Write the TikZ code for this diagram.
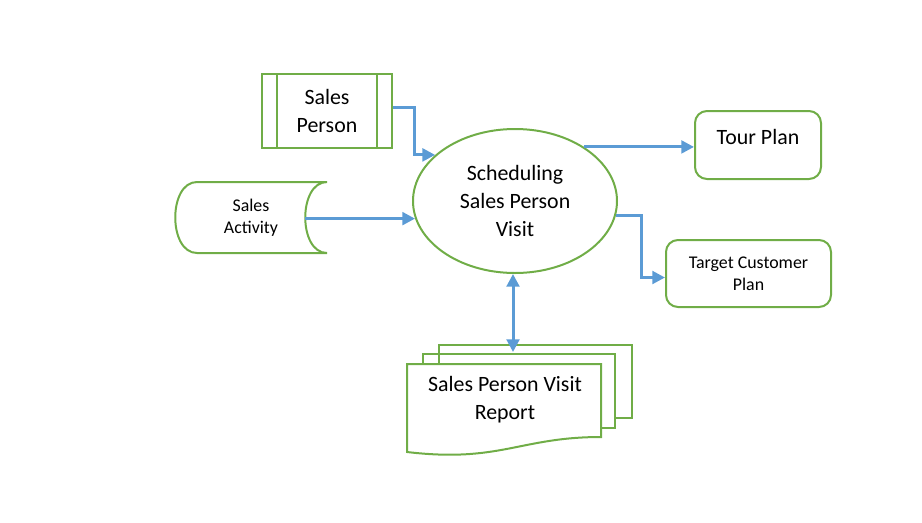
\documentclass[tikz,border=0pt]{standalone}
\usepackage{fontspec}
\setmainfont{Carlito}
\usepackage{xcolor}
\usetikzlibrary{arrows.meta,positioning,shapes.geometric,calc}
\definecolor{shapegreen}{RGB}{112,173,71}
\definecolor{flowblue}{RGB}{91,155,213}

\begin{document}
\begin{tikzpicture}[x=0.75pt,y=-0.75pt,
   big/.style={font=\fontsize{16.4}{21}\selectfont},
   small/.style={font=\fontsize{13.4}{16.5}\selectfont},
   outline/.style={draw=shapegreen,line width=1.5pt},
   box/.style={outline,rounded corners=9pt,align=center,inner sep=0pt},
   flow/.style={draw=flowblue,line width=2.25pt,-{Triangle[length=9.5pt,width=9.5pt]}}]
  \useasboundingbox (0,0) rectangle (922,522);
  % process in the middle
  \node[outline,ellipse,big,align=center,minimum width=153pt,minimum height=108pt,
        inner sep=0pt] (ell) at (515,201) {Scheduling\\Sales Person\\Visit};
  % inputs
  \node[outline,big,align=center,minimum width=97.5pt,minimum height=55.5pt] (sp)
       at (327,111) {Sales\\Person};
  \draw[outline] ([xshift=12pt]sp.north west) -- ([xshift=12pt]sp.south west)
                 ([xshift=-12pt]sp.north east) -- ([xshift=-12pt]sp.south east);
  \node[small,align=center,minimum width=114pt,minimum height=53pt] (sa)
       at (251,217.5) {Sales\\Activity};
  \draw[outline] (327,182) -- (197,182) .. controls (168,182) and (168,253) .. (197,253)
       -- (327,253) .. controls (298,253) and (298,182) .. (327,182);
  % outputs
  \node[box,big,minimum width=94.5pt,minimum height=51pt,text depth=12pt] (tp)
       at (758,145) {Tour Plan};
  \node[box,small,minimum width=123.75pt,minimum height=50.25pt] (tcp)
       at (748.5,273.5) {Target Customer\\Plan};
  % visit report (multi document)
  \draw[outline] (439,364) -- (439,345) -- (632,345) -- (632,418) -- (615,418);
  \draw[outline] (423,364) -- (423,354) -- (615,354) -- (615,428) -- (601,428);
  \draw[outline] (407,364) -- (601,364) -- (601,437)
       .. controls (520,437) and (500,463) .. (407,452) -- cycle;
  \node[big,align=center] (rep) at (505,399.5) {Sales Person Visit\\Report};
  \coordinate (reptop) at (513,352);
  % flows
  \draw[flow] ([yshift=3pt]sp.east) -- ++(21,0) |- (ell.150);
  \draw[flow] ([xshift=-17pt]sa.east |- ell.190) -- (ell.190);
  \draw[flow] (ell.38) -- (ell.38 -| tp.west);
  \draw[flow] (ell.352) -- ++(25,0) |- ([yshift=-3pt]tcp.west);
  \draw[flow,{Triangle[length=9.5pt,width=9.5pt]}-{Triangle[length=9.5pt,width=9.5pt]}]
       (ell.south -| reptop) -- (reptop);
\end{tikzpicture}
\end{document}
